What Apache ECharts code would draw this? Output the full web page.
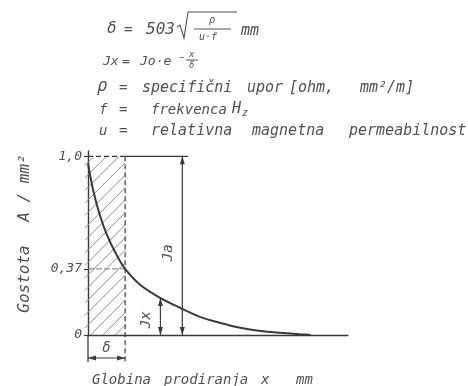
<!DOCTYPE html>
<html>
<head>
<meta charset="utf-8">
<script src="https://cdn.jsdelivr.net/npm/echarts@6/dist/echarts.min.js"></script>
<style>
  html, body { margin: 0; padding: 0; background: #fff; }
  #chart { width: 468px; height: 386px; }
</style>
</head>
<body>
<div id="chart"></div>
<script>
// Current density below the conductor surface (skin effect); depth measured in units of δ
const depthX  = [0, 0.135, 0.32, 0.51, 0.76, 1.0, 1.41, 1.95, 2.49, 3.03, 3.57, 4.1, 4.65, 5.19, 5.7, 6.0];
const density = [0.96, 0.815, 0.67, 0.56, 0.452, 0.37, 0.28, 0.207, 0.151, 0.10, 0.067, 0.04, 0.022, 0.012, 0.004, 0];

const skinDepth = 1;          // δ
const level37 = 0.37;         // 1/e level
const surfaceDensity = 1.0;   // Ja
const topLineEnd = 2.7;
const xMax = 7;

const yTickValues = [0, 0.37, 1.0];
const yTickLabels = ['0', '0,37', '1,0'];

// dimension arrows Jx and Ja
const arrowX = [1.95, 2.54];
const arrowTop = [0.207, 1.0];
const arrowNames = ['Jx', 'Ja'];
const arrowLabelY = [0.085, 0.46];

const ink = '#3a3a3a';
const textInk = '#505050';
const hand = "'DejaVu Sans Mono', monospace";

function arrowHead(x, y, dir, color) {
  // dir: -1 points up, +1 points down, 'l' left, 'r' right
  let pts;
  if (dir === -1) pts = [[x, y], [x - 2.5, y + 8], [x + 2.5, y + 8]];
  else if (dir === 1) pts = [[x, y], [x - 2.5, y - 8], [x + 2.5, y - 8]];
  else if (dir === 'l') pts = [[x, y], [x + 8, y - 2.5], [x + 8, y + 2.5]];
  else pts = [[x, y], [x - 8, y - 2.5], [x - 8, y + 2.5]];
  return { type: 'polygon', shape: { points: pts }, style: { fill: color } };
}

function word(text, x, y, size, extra) {
  return Object.assign({
    type: 'text', x: x, y: y,
    style: {
      text: text, fill: textInk,
      font: 'italic ' + size + 'px ' + hand,
      textAlign: 'left', textVerticalAlign: 'middle'
    }
  }, extra || {});
}

function seg(x1, y1, x2, y2, w, color) {
  return { type: 'line', shape: { x1, y1, x2, y2 }, style: { stroke: color || textInk, lineWidth: w || 1 } };
}

const chart = echarts.init(document.getElementById('chart'), null, { renderer: 'canvas' });

const option = {
  backgroundColor: '#ffffff',
  animation: false,
  grid: { left: 88, right: 120, top: 151, bottom: 51, containLabel: false },
  xAxis: {
    type: 'value', min: 0, max: xMax,
    axisLine: { show: true, lineStyle: { color: ink, width: 1.4 } },
    axisTick: { show: false }, axisLabel: { show: false }, splitLine: { show: false }
  },
  yAxis: {
    type: 'value', min: 0, max: 1.03,
    axisLine: { show: true, lineStyle: { color: ink, width: 1.4 } },
    splitLine: { show: false },
    axisTick: { show: true, customValues: yTickValues, length: 4, lineStyle: { color: ink, width: 1.2 } },
    axisLabel: {
      customValues: yTickValues, margin: 6,
      color: textInk, fontStyle: 'italic', fontSize: 13, fontFamily: hand,
      formatter: function (v) {
        let best = 0;
        yTickValues.forEach(function (t, i) { if (Math.abs(t - v) < Math.abs(yTickValues[best] - v)) best = i; });
        return yTickLabels[best];
      }
    }
  },
  series: [
    {
      // hatched skin layer 0..δ with dashed borders
      type: 'custom', name: 'skin', clip: false, z: 2,
      data: [[0, 0, skinDepth, surfaceDensity]],
      renderItem: function (params, api) {
        const p0 = api.coord([api.value(0), api.value(1)]);
        const p1 = api.coord([api.value(2), api.value(3)]);
        const pL = api.coord([0, level37]);
        const pR = api.coord([skinDepth, level37]);
        const pEnd = api.coord([topLineEnd, surfaceDensity]);
        const xa = p0[0], xb = p1[0], yt = p1[1], yb = p0[1];
        const step = 12.5;
        const children = [];
        for (let c = xa + yt + 6; c < xb + yb; c += step) {
          const xs = Math.max(xa - 3, c - yb);
          const xe = Math.min(xb, c - yt);
          if (xe > xs) children.push(seg(xs, c - xs, xe, c - xe, 1, '#8e8e8e'));
        }
        const dash = { stroke: ink, lineWidth: 1.2, lineDash: [5, 3] };
        children.push({ type: 'line', shape: { x1: xa, y1: yt, x2: xb, y2: yt }, style: dash });
        children.push({ type: 'line', shape: { x1: xb, y1: yt, x2: xb, y2: yb + 27 }, style: dash });
        children.push({ type: 'line', shape: { x1: pL[0], y1: pL[1], x2: pR[0], y2: pR[1] },
          style: { stroke: '#777', lineWidth: 1, lineDash: [6, 2] } });
        children.push(seg(xb, yt, pEnd[0], pEnd[1], 1.3, ink));
        // δ dimension below the axis
        const dy = yb + 23;
        children.push(seg(xa, yb, xa, yb + 27, 1.3, ink));
        children.push(seg(xa, dy, xb, dy, 1.1, ink));
        children.push(arrowHead(xa, dy, 'l', ink));
        children.push(arrowHead(xb, dy, 'r', ink));
        children.push({ type: 'text', x: (xa + xb) / 2, y: yb + 13,
          style: { text: 'δ', fill: textInk, font: 'italic 14px ' + hand, textAlign: 'center', textVerticalAlign: 'middle' } });
        return { type: 'group', children: children };
      }
    },
    {
      type: 'line', name: 'J(x)', z: 5,
      data: depthX.map(function (x, i) { return [x, density[i]]; }),
      smooth: 0.3, showSymbol: false,
      lineStyle: { color: ink, width: 2 }
    },
    {
      // double-headed dimension arrows Jx, Ja
      type: 'custom', name: 'arrows', clip: false, z: 4,
      data: arrowX.map(function (x, i) { return [x, 0, arrowTop[i]]; }),
      renderItem: function (params, api) {
        const i = params.dataIndex;
        const b = api.coord([api.value(0), api.value(1)]);
        const t = api.coord([api.value(0), api.value(2)]);
        const lab = api.coord([api.value(0), arrowLabelY[i]]);
        return {
          type: 'group',
          children: [
            seg(b[0], b[1], t[0], t[1], 1.2, ink),
            arrowHead(t[0], t[1], -1, ink),
            arrowHead(b[0], b[1], 1, ink),
            { type: 'text', x: lab[0] - 14, y: lab[1], rotation: Math.PI / 2,
              style: { text: arrowNames[i], fill: textInk, font: 'italic 14px ' + hand,
                       textAlign: 'center', textVerticalAlign: 'middle' } }
          ]
        };
      }
    }
  ],
  graphic: [
    // δ = 503 √(ρ / u·f) mm
    word('δ', 107, 29, 16),
    word('=', 124, 30, 14),
    word('503', 146, 30, 16),
    { type: 'polyline', shape: { points: [[177, 27], [180, 25], [184, 38], [188, 12], [237, 12]] },
      style: { stroke: textInk, lineWidth: 1.1, fill: null } },
    word('ρ', 209, 20, 10),
    seg(194, 29, 231, 29, 1),
    word('u·f', 199, 37, 10),
    word('mm', 241, 31, 15),
    // Jx = Jo·e^(-x/δ)
    word('Jx', 103, 62, 13),
    word('=', 122, 62, 13),
    word('Jo·e', 140, 62, 13),
    word('−', 179, 58, 9),
    seg(186, 60, 198, 60, 1),
    word('x', 189, 55, 9),
    word('δ', 189, 66, 9),
    // legend of symbols
    word('ρ', 97, 87, 17),
    word('=', 119, 88, 14),
    word('specifični', 142, 88, 15),
    word('upor', 247, 88, 15),
    word('[ohm,', 289, 88, 15),
    word('mm²/m]', 360, 88, 15),
    word('f', 99, 110, 14),
    word('=', 119, 110, 14),
    word('frekvenca', 151, 110, 14),
    word('H', 232, 109, 15),
    word('z', 242, 113, 10),
    word('u', 99, 131, 14),
    word('=', 119, 131, 14),
    word('relativna', 151, 131, 15),
    word('magnetna', 252, 131, 15),
    word('permeabilnost', 349, 131, 15),
    // axis titles
    word('Globina', 92, 380, 14),
    word('prodiranja', 164, 380, 14),
    word('x', 261, 380, 14),
    word('mm', 296, 380, 14),
    { type: 'text', x: 25, y: 279, rotation: Math.PI / 2,
      style: { text: 'Gostota', fill: textInk, font: 'italic 16px ' + hand, textAlign: 'center', textVerticalAlign: 'middle' } },
    { type: 'text', x: 25, y: 188, rotation: Math.PI / 2,
      style: { text: 'A / mm²', fill: textInk, font: 'italic 16px ' + hand, textAlign: 'center', textVerticalAlign: 'middle' } }
  ]
};

chart.setOption(option);
</script>
</body>
</html>
